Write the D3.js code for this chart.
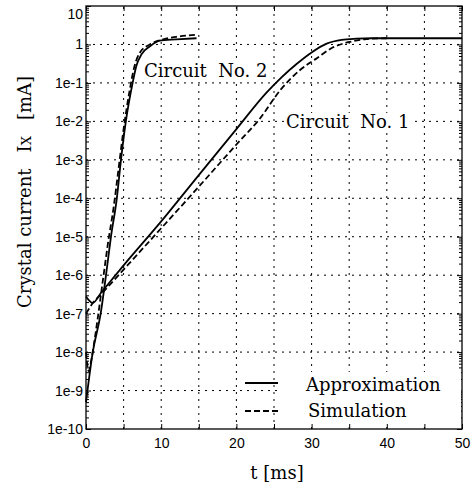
<!DOCTYPE html>
<html>
<head>
<meta charset="utf-8">
<script src="https://cdn.jsdelivr.net/npm/d3@7"></script>
<style>
  body { margin: 0; background: white; }
  svg { display: block; }
</style>
</head>
<body>
<svg id="chart"></svg>
<script>
// circuit No. 1, approximation (solid)
var t1Approx = [0, 0.9, 2, 5, 10, 15, 20, 24, 26, 28, 30, 32, 34, 36, 38, 50];
var i1Approx = [2.8e-7, 1.9e-7, 3.5e-7, 1.8e-6, 2.5e-5, 4e-4, 6.3e-3, 0.056, 0.14, 0.31, 0.62, 1.05, 1.32, 1.41, 1.45, 1.45];
// circuit No. 1, simulation (dashed)
var t1Sim = [0, 1, 2, 5, 10, 15, 20, 23, 26, 28.5, 30.7, 32.8, 35.1, 37.3, 40];
var i1Sim = [1e-7, 2e-7, 3.2e-7, 1.4e-6, 1.66e-5, 2e-4, 2.5e-3, 0.011, 0.071, 0.22, 0.44, 0.83, 1.17, 1.38, 1.45];
// circuit No. 2, approximation (solid)
var t2Approx = [0, 0.9, 1.95, 2.66, 3.32, 4.1, 4.65, 5.3, 6.2, 6.7, 7.4, 8.5, 9.8, 12, 14.7];
var i2Approx = [5e-10, 1e-8, 1e-7, 1e-6, 1e-5, 1e-4, 1e-3, 1e-2, 0.1, 0.28, 0.56, 0.89, 1.26, 1.35, 1.45];
// circuit No. 2, simulation (dashed)
var t2Sim = [0, 0.35, 0.8, 1.5, 2.2, 2.9, 3.7, 4.35, 5.0, 5.8, 6.4, 7.2, 8.5, 10, 12, 14.5];
var i2Sim = [1e-8, 3.2e-9, 8e-9, 6.3e-8, 6.3e-7, 6.3e-6, 6.3e-5, 6.3e-4, 6.3e-3, 0.063, 0.25, 0.63, 1.0, 1.32, 1.58, 1.78];

var xTicks = [0, 5, 10, 15, 20, 25, 30, 35, 40, 45, 50];
var xLabels = [0, 10, 20, 30, 40, 50];
var yTicks = [1e-10, 1e-9, 1e-8, 1e-7, 1e-6, 1e-5, 1e-4, 1e-3, 1e-2, 1e-1, 1, 10];

var W = 476, H = 493;
var m = {left: 86, right: 462, top: 6, bottom: 429};

var svg = d3.select("#chart").attr("width", W).attr("height", H);

var x = d3.scaleLinear().domain([0, 50]).range([m.left, m.right]);
var y = d3.scaleLog().domain([1e-10, 10]).range([m.bottom, m.top]);

function yFmt(v) {
  var k = Math.round(Math.log10(v));
  if (k === 1) return "10";
  if (k === 0) return "1";
  return "1e" + k;
}

// grid
var grid = svg.append("g").attr("stroke", "#000").attr("stroke-width", 1)
  .attr("stroke-dasharray", "2,5");
grid.selectAll(".gx").data(xTicks.slice(1, -1)).enter().append("line")
  .attr("x1", d => x(d)).attr("x2", d => x(d))
  .attr("y1", m.bottom).attr("y2", m.top);
grid.selectAll(".gy").data(yTicks.slice(1, -1)).enter().append("line")
  .attr("y1", d => y(d)).attr("y2", d => y(d))
  .attr("x1", m.left).attr("x2", m.right);

// minor y ticks
var minor = [];
yTicks.slice(0, -1).forEach(function(d) {
  for (var k = 2; k < 10; k++) minor.push(d * k);
});

function styleAxis(g) {
  g.select(".domain").remove();
  g.selectAll("line").attr("stroke", "#000");
  g.selectAll("text").attr("fill", "#000")
    .style("font-family", "'Liberation Sans', Arial, sans-serif")
    .style("font-size", "14px");
}

svg.append("g").attr("transform", "translate(0," + m.bottom + ")")
  .call(d3.axisBottom(x).tickValues(xTicks).tickSize(-5).tickPadding(9)
    .tickFormat(d => xLabels.indexOf(d) >= 0 ? d : ""))
  .call(styleAxis);
svg.append("g").attr("transform", "translate(0," + m.top + ")")
  .call(d3.axisTop(x).tickValues(xTicks).tickSize(-5).tickFormat(""))
  .call(styleAxis);
var yAx = svg.append("g").attr("transform", "translate(" + m.left + ",0)")
  .call(d3.axisLeft(y).tickValues(yTicks).tickSize(-5).tickPadding(3).tickFormat(yFmt))
  .call(styleAxis);
// top label sits a little lower so it stays inside the page
yAx.selectAll(".tick text").filter(d => d === 10).attr("dy", "0.9em");
svg.append("g").attr("transform", "translate(" + m.right + ",0)")
  .call(d3.axisRight(y).tickValues(yTicks).tickSize(-5).tickFormat(""))
  .call(styleAxis);
svg.append("g").attr("transform", "translate(" + m.left + ",0)")
  .call(d3.axisLeft(y).tickValues(minor).tickSize(-3).tickFormat(""))
  .call(styleAxis);
svg.append("g").attr("transform", "translate(" + m.right + ",0)")
  .call(d3.axisRight(y).tickValues(minor).tickSize(-3).tickFormat(""))
  .call(styleAxis);

// legend backdrop
svg.append("rect").attr("x", 281).attr("y", 372).attr("width", m.right - 281 - 1)
  .attr("height", m.bottom - 372 - 5).attr("fill", "white");

var serif = "'DejaVu Serif', serif";

// annotations with white backdrop
function note(txt, tx, ty) {
  var t = svg.append("text").attr("x", tx).attr("y", ty)
    .attr("font-family", serif).attr("font-size", 18).attr("xml:space", "preserve")
    .text(txt);
  var b = t.node().getBBox();
  svg.insert("rect", function() { return t.node(); })
    .attr("x", b.x - 1).attr("y", b.y + 2)
    .attr("width", b.width + 2).attr("height", b.height - 4).attr("fill", "white");
}
note("Circuit  No. 2", 144, 77);
note("Circuit  No. 1", 286, 128);

// curves
var line = d3.line().x(d => x(d[0])).y(d => y(d[1])).curve(d3.curveMonotoneX);
function curve(ts, vs, dash) {
  svg.append("path").datum(d3.zip(ts, vs))
    .attr("d", line).attr("fill", "none").attr("stroke", "#000")
    .attr("stroke-width", 1.8).attr("stroke-dasharray", dash);
}
curve(t1Approx, i1Approx, null);
curve(t1Sim, i1Sim, "6,3");
curve(t2Approx, i2Approx, null);
curve(t2Sim, i2Sim, "6,3");

// box
svg.append("rect").attr("x", m.left).attr("y", m.top)
  .attr("width", m.right - m.left).attr("height", m.bottom - m.top)
  .attr("fill", "none").attr("stroke", "#000").attr("stroke-width", 1.3);

// legend
svg.append("line").attr("x1", 245).attr("x2", 278).attr("y1", 383).attr("y2", 383)
  .attr("stroke", "#000").attr("stroke-width", 1.8);
svg.append("line").attr("x1", 245).attr("x2", 278).attr("y1", 411).attr("y2", 411)
  .attr("stroke", "#000").attr("stroke-width", 1.8).attr("stroke-dasharray", "6,3");
svg.append("text").attr("x", 306).attr("y", 391).attr("font-family", serif)
  .attr("font-size", 18).text("Approximation");
svg.append("text").attr("x", 308).attr("y", 417).attr("font-family", serif)
  .attr("font-size", 18).text("Simulation");

// axis titles
svg.append("text").attr("x", 277).attr("y", 479).attr("text-anchor", "middle")
  .attr("font-family", serif).attr("font-size", 18).text("t [ms]");

var yl = svg.append("text").attr("transform", "translate(31,308) rotate(-90)")
  .attr("font-family", serif).attr("font-size", 18).attr("xml:space", "preserve");
yl.append("tspan").text("Crystal current");
yl.append("tspan").attr("dx", 16).text("I");
yl.append("tspan").attr("font-size", 13).text("X");
yl.append("tspan").attr("dx", 16).text("[mA]");
</script>
</body>
</html>
